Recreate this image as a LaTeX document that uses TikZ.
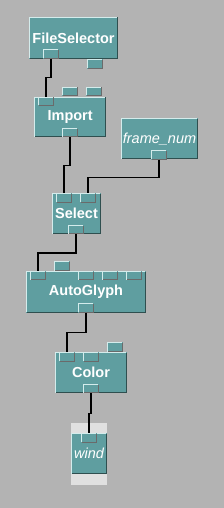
\documentclass[tikz,border=0pt]{standalone}
\usepackage{fontspec}
\setmainfont{Liberation Sans}
\definecolor{bg}{HTML}{B3B3B3}
\definecolor{teal1}{HTML}{5F9EA0}
\definecolor{hilite}{HTML}{D4ECEC}
\definecolor{darkedge}{HTML}{2F4F4F}
\definecolor{portedge}{HTML}{6A6A6A}
\definecolor{winbg}{HTML}{E0E0E0}
\newcommand{\bevel}[2]{%
  \draw[draw=hilite,line width=1pt] ([xshift=0.5pt,yshift=0.5pt]#1.south west) |- ([xshift=-0.5pt,yshift=-0.5pt]#1.north east);
  \draw[draw=#2,line width=1pt] ([xshift=0.5pt,yshift=0.5pt]#1.south west) -| ([xshift=-0.5pt,yshift=-0.5pt]#1.north east);}
\begin{document}
\begin{tikzpicture}[x=1pt,y=-1pt,
  modbox/.style={rectangle,anchor=north west,fill=teal1,inner sep=0pt,outer sep=0pt,text=white,font=\fontsize{14.5}{16}\selectfont\bfseries},
  databox/.style={modbox,font=\fontsize{14.5}{16}\selectfont\itshape},
  portbox/.style={rectangle,anchor=north west,fill=teal1,inner sep=0pt,outer sep=0pt,minimum width=15.4pt,minimum height=9.3pt},
  wire/.style={black,line width=1.1pt}]
\fill[bg] (0,0) rectangle (224,508);
\useasboundingbox (0,0) rectangle (224,508);

% FileSelector
\node[modbox,minimum width=89pt,minimum height=42pt] (fs) at (29,17) {FileSelector};
\bevel{fs}{darkedge}
\node[portbox] (fsout) at (43.3,49.3) {};
\bevel{fsout}{portedge}
\node[portbox] (fstab) at (87.3,59.3) {};
\bevel{fstab}{portedge}

% Import
\node[modbox,minimum width=71.7pt,minimum height=40.6pt] (imp) at (34.3,96.7) {Import};
\bevel{imp}{darkedge}
\node[portbox] (impin) at (38.3,96.7) {};
\bevel{impin}{portedge}
\node[portbox] (impt1) at (62.3,86.7) {};
\bevel{impt1}{portedge}
\node[portbox] (impt2) at (86.3,86.7) {};
\bevel{impt2}{portedge}
\node[portbox] (impout) at (62.3,128) {};
\bevel{impout}{portedge}

% frame_num
\node[databox,minimum width=76.4pt,minimum height=41pt] (fn) at (121.3,118.3) {frame\_num};
\bevel{fn}{darkedge}
\node[portbox] (fnout) at (151.3,150.3) {};
\bevel{fnout}{portedge}

% Select
\node[modbox,minimum width=48.4pt,minimum height=41pt] (sel) at (52.3,193.3) {Select};
\bevel{sel}{darkedge}
\node[portbox] (selin1) at (56.3,193.3) {};
\bevel{selin1}{portedge}
\node[portbox] (selin2) at (80.3,193.3) {};
\bevel{selin2}{portedge}
\node[portbox] (selout) at (68.3,225) {};
\bevel{selout}{portedge}

% AutoGlyph
\node[modbox,minimum width=119.4pt,minimum height=41.7pt] (ag) at (26.3,271) {AutoGlyph};
\bevel{ag}{darkedge}
\node[portbox] (agin1) at (30.3,271) {};
\bevel{agin1}{portedge}
\node[portbox] (agin2) at (78.3,271) {};
\bevel{agin2}{portedge}
\node[portbox] (agin3) at (102.3,271) {};
\bevel{agin3}{portedge}
\node[portbox] (agin4) at (126.3,271) {};
\bevel{agin4}{portedge}
\node[portbox,minimum height=10pt] (agtab) at (54.3,261) {};
\bevel{agtab}{portedge}
\node[portbox] (agout) at (78.3,303.4) {};
\bevel{agout}{portedge}

% Color
\node[modbox,minimum width=71.4pt,minimum height=41pt] (col) at (55.3,352.3) {Color};
\bevel{col}{darkedge}
\node[portbox] (colin1) at (59.3,352.3) {};
\bevel{colin1}{portedge}
\node[portbox] (colin2) at (83.3,352.3) {};
\bevel{colin2}{portedge}
\node[portbox,minimum height=10pt] (coltab) at (107.3,342.3) {};
\bevel{coltab}{portedge}
\node[portbox] (colout) at (83.3,384) {};
\bevel{colout}{portedge}

% wind
\node[rectangle,anchor=north west,fill=winbg,inner sep=0pt,minimum width=36pt,minimum height=61.7pt] (windbg) at (71,423) {};
\node[databox,minimum width=35.4pt,minimum height=41.3pt] (wind) at (71.3,433) {wind};
\bevel{wind}{darkedge}
\node[portbox,minimum height=9.7pt] (windin) at (81.3,433) {};
\bevel{windin}{portedge}

% wires
\draw[wire] (fsout.south) -- ++(0,19.3) -| (impin.north);
\draw[wire] (impout.south) -- ++(0,28) -| (selin1.north);
\draw[wire] (fnout.south) -- ++(0,18) -| (selin2.north);
\draw[wire] (selout.south) -- ++(0,18.7) -| (agin1.north);
\draw[wire] (agout.south) -- ++(0,20) -| (colin1.north);
\draw[wire] (colout.south) -- ++(0,20.3) -| (windin.north);
\end{tikzpicture}
\end{document}
